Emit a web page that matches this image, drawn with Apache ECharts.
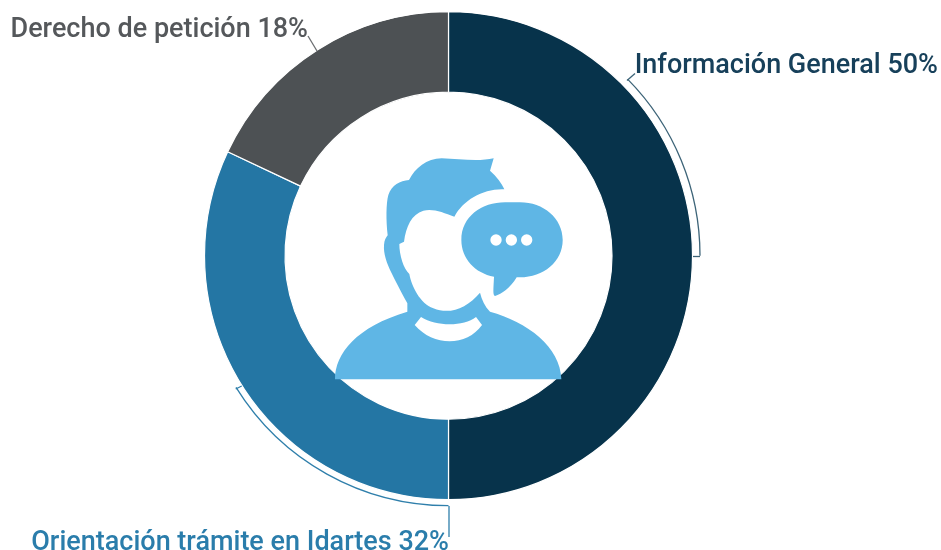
<!DOCTYPE html>
<html><head><meta charset="utf-8">
<script src="https://cdn.jsdelivr.net/npm/echarts@6/dist/echarts.min.js"></script>
<style>html,body{margin:0;padding:0;background:#fff}#c{width:941px;height:550px}</style>
</head><body><div id="c"></div>
<script>
const categories = ['Información General', 'Orientación trámite en Idartes', 'Derecho de petición'];
const values = [50, 32, 18];
const sliceColors = ['#07334b', '#2476a4', '#4d5154'];
const labelColors = ['#17405a', '#2a7dab', '#55585b'];
const labelAnchors = [[938, 66], [449, 543], [308, 30]];
const CX = 448.5, CY = 255.7, R_IN = 163.5, R_OUT = 244;
const ICON = 'M45 718C45 640 110 560 262 515L262 490C240 450 225 420 215 400C200 370 190 340 192 315C193 300 198 292 203 286C198 240 198 190 205 165C215 135 240 122 267 120C285 85 320 55 365 55C420 58 480 65 521 55L510 92C530 110 545 130 553 148C490 145 430 180 403 230C370 218 340 205 310 212C275 222 258 260 252 305L238 312C238 345 250 385 268 402C275 440 300 490 340 505C390 525 440 505 480 458C485 480 495 500 510 515C620 545 722 620 724 718Z'
 + 'M303 531L284 555C340 620 440 620 486 555L468 531C430 560 350 560 303 531Z'
 + 'M424 300C424 230 485 187 555 187L600 187C670 187 728 235 728 300C728 365 670 412 600 412L590 412C570 445 545 462 525 468C518 465 520 450 522 410C465 400 424 355 424 300Z'
 + 'M545 300A17 17 0 1 0 511 300A17 17 0 1 0 545 300Z'
 + 'M591 300A17 17 0 1 0 557 300A17 17 0 1 0 591 300Z'
 + 'M637 300A17 17 0 1 0 603 300A17 17 0 1 0 637 300Z';
const rad = d => d * Math.PI / 180;
const chart = echarts.init(document.getElementById('c'), null, {renderer: 'canvas'});
function stroke(c) { return {stroke: c, fill: null, lineWidth: 1.3}; }
function seg(a, b, c, d, col) { return {type: 'line', shape: {x1: a, y1: b, x2: c, y2: d}, style: stroke(col)}; }
function arc(a, b, r, col) { return {type: 'arc', shape: {cx: CX, cy: CY, r: r, startAngle: rad(a), endAngle: rad(b), clockwise: true}, style: stroke(col)}; }
chart.setOption({
  animation: false,
  backgroundColor: '#fff',
  series: [
    {
      type: 'pie', center: [CX, CY], radius: [R_IN, R_OUT], startAngle: 90, clockwise: true,
      silent: true, avoidLabelOverlap: false,
      itemStyle: {borderColor: '#fff', borderWidth: 1.2},
      label: {show: true, position: 'outside', formatter: '{b} {c}%', fontFamily: 'Roboto', fontWeight: 500, fontSize: 27},
      labelLine: {show: false},
      labelLayout: p => ({x: labelAnchors[p.dataIndex][0], y: labelAnchors[p.dataIndex][1], align: 'right', verticalAlign: 'middle'}),
      data: categories.map((n, i) => ({
        name: n, value: values[i],
        itemStyle: {color: sliceColors[i]},
        label: {color: labelColors[i]}
      }))
    },
    {
      type: 'custom', coordinateSystem: 'none', silent: true, z: 5, data: [0],
      renderItem: () => ({type: 'group', children: [
        {type: 'path', shape: {pathData: ICON, x: 335, y: 158.3, width: 227.7, height: 221, layout: 'cover'}, style: {fill: '#5fb6e5'}},
        arc(-44.6, 0, 251.5, '#3d6478'),
        seg(627, 80.5, 635, 73.5, '#3d6478'),
        seg(700, 256.5, 693, 256.5, '#3d6478'),
        arc(90, 148.2, 250, '#2f7fab'),
        seg(449, 506, 449, 537, '#2f7fab'),
        seg(235.7, 389, 241.7, 386, '#2f7fab'),
        seg(308, 36, 317, 51, '#6a6d70')
      ]})
    }
  ]
});
</script></body></html>
